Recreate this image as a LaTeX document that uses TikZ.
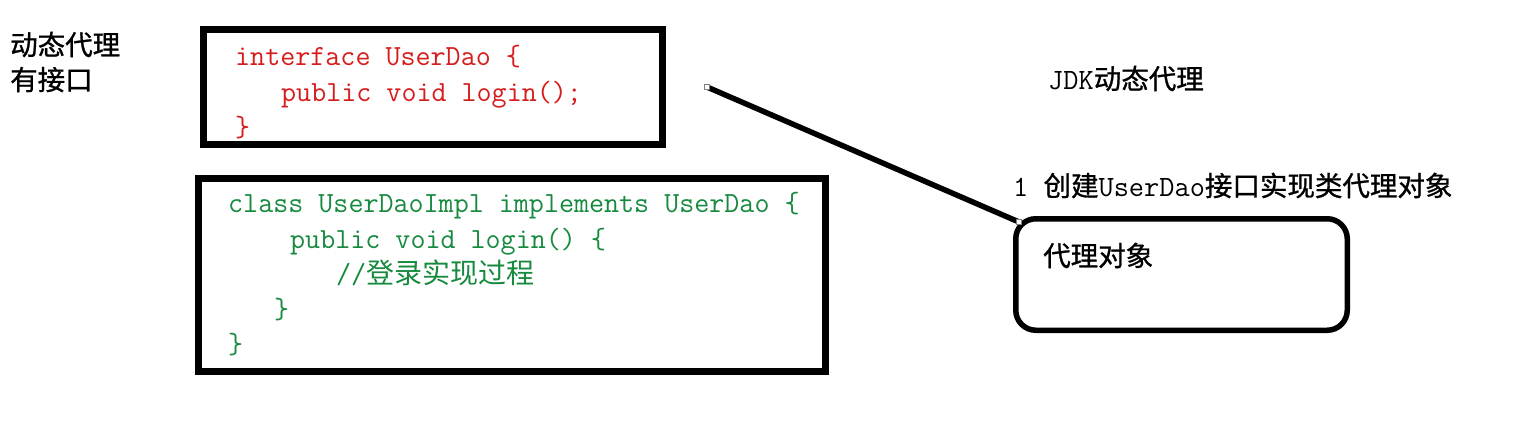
\documentclass[tikz,border=0pt]{standalone}
\usepackage{fontspec}
\newfontfamily\cjk{Noto Sans CJK SC}
\newfontfamily\cjklabel[FakeBold=1]{Noto Sans CJK SC}
\definecolor{codered}{RGB}{214,28,28}
\definecolor{codegreen}{RGB}{22,138,62}
\newcommand\cjcode[1]{{\cjk\fontsize{28}{30}\selectfont #1}}
\newcommand\mono[1]{{\ttfamily\fontsize{29.5}{30}\selectfont #1}}
\tikzset{
  frame/.style={draw=black, line width=7pt, inner sep=0pt, rectangle},
  roundframe/.style={draw=black, line width=5.5pt, inner sep=0pt, rectangle, rounded corners=20pt},
  codeline/.style={anchor=base west, inner sep=0pt, font=\ttfamily\fontsize{29.2}{30}\selectfont},
  redcode/.style={codeline, text=codered},
  greencode/.style={codeline, text=codegreen},
  label/.style={anchor=base west, inner sep=0pt, font=\cjklabel\fontsize{27.5}{30}\selectfont},
  link/.style={draw=black, line width=5.5pt},
  handle/.style={draw=gray, fill=white, line width=0.8pt, minimum size=5pt, inner sep=0pt, rectangle}
}
\begin{document}
\begin{tikzpicture}[x=1pt,y=-1pt]
\useasboundingbox[fill=white] (0,0) rectangle (1539,424);

% left labels
\node[label] (t1) at (10,55) {动态代理};
\node[label] (t2) at (10,90) {有接口};

% interface box
\node[frame, minimum width=459pt, minimum height=115pt] (ibox) at (433,87) {};
\node[redcode] (i1) at (235,65) {interface UserDao \{};
\node[redcode] (i2) at (281,101) {public void login();};
\node[redcode] (i3) at (235,136) {\}};

% implementation box
\node[frame, minimum width=627pt, minimum height=193pt] (cbox) at (512,275) {};
\node[greencode] (c1) at (228,212) {class UserDaoImpl implements UserDao \{};
\node[greencode] (c2) at (290,248) {public void login() \{};
\node[greencode] (c3) at (336,283) {//\cjcode{登录实现过程}};
\node[greencode] (c4) at (274,318) {\}};
\node[greencode] (c5) at (228,353) {\}};

% right side
\node[label] (jdk) at (1048,89) {\mono{JDK}动态代理};
\node[label] (step1) at (1013,196) {\mono{1 }创建\mono{UserDao}接口实现类代理对象};
\node[roundframe, minimum width=331.5pt, minimum height=111.5pt] (proxy) at (1181.5,274.5) {};
\node[label] (ptext) at (1043,266) {代理对象};

% connector
\coordinate (ls) at (707,87);
\coordinate (le) at ([xshift=6pt,yshift=-6pt]proxy.north west);
\draw[link] (ls) -- (le);
\node[handle] at (ls) {};
\node[handle] at (le) {};
\end{tikzpicture}
\end{document}
